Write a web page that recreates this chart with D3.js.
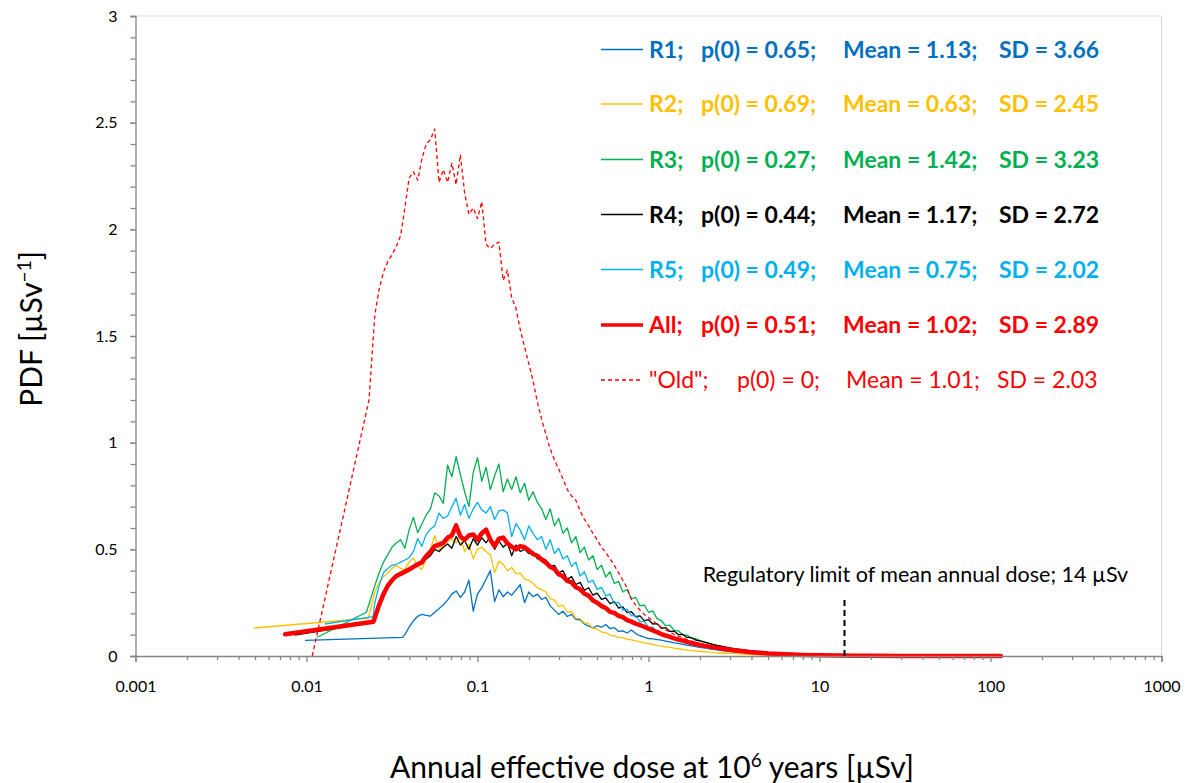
<!DOCTYPE html>
<html><head><meta charset="utf-8">
<script src="https://cdn.jsdelivr.net/npm/d3@7"></script>
<style>
body{margin:0;background:#fff}
svg{display:block}
text{font-family:Lato,"Open Sans",sans-serif}
</style>
</head><body>
<svg id="chart" width="1191" height="783"></svg>
<script>
// ---------- DATA ----------
const doseGrid = [0.0251,0.0266,0.0282,0.0299,0.0316,0.0335,0.0355,0.0376,0.0398,0.0422,
  0.0447,0.0473,0.0501,0.0531,0.0562,0.0596,0.0631,0.0668,0.0708,0.0750,
  0.0794,0.0841,0.0891,0.0944,0.1000,0.1059,0.1122,0.1189,0.1259,0.1334,
  0.1413,0.1496,0.1585,0.1679,0.1778,0.1884,0.1995,0.2113,0.2239,0.2371,
  0.2512,0.2661,0.2818,0.2985,0.3162,0.3350,0.3548,0.3758,0.3981,0.4217,
  0.4467,0.4732,0.5012,0.5309,0.5623,0.5957,0.6310,0.6683,0.7079,0.7499,
  0.7943,0.8414,0.8913,0.9441,1.000,1.059,1.122,1.189,1.259,1.334,
  1.413,1.496,1.585,1.679,1.778,1.884,1.995,2.113,2.239,2.371,
  2.512,2.661,2.818,2.985,3.162];
const tailDose = [4,5,6.3,8,10,12.6,16,20,30,50,80,115];

const r1Head = [[0.0098,0.073],[0.0365,0.087]];
const r1Grid = [null,null,null,null,null,null,null,0.100,0.135,0.165,
  0.186,0.195,0.190,0.187,0.205,0.222,0.240,0.262,0.290,0.305,
  0.275,0.300,0.355,0.210,0.290,0.320,0.360,0.400,0.255,0.310,
  0.278,0.300,0.285,0.310,0.335,0.250,0.300,0.278,0.290,0.265,
  0.275,0.235,0.215,0.195,0.210,0.185,0.195,0.172,0.170,0.150,
  0.140,0.132,0.142,0.135,0.148,0.128,0.133,0.115,0.118,0.108,
  0.122,0.105,0.095,0.088,0.082,0.080,0.077,0.074,0.070,0.066,
  0.062,0.059,0.055,0.051,0.047,0.044,0.041,0.038,0.035,0.031,
  0.029,0.026,0.024,0.022,0.020];
const r1Tail = [0.014,0.010,0.007,0.004,0.003,0.002,0.001,0.0005];

const r2Head = [[0.0049,0.131],[0.0230,0.177]];
const r2Grid = [0.300,0.345,0.372,0.390,0.410,0.425,0.410,0.405,0.440,0.458,
  0.420,0.405,0.460,0.500,0.565,0.500,0.520,0.535,0.550,0.530,
  0.560,0.490,0.525,0.455,0.500,0.510,0.490,0.475,0.390,0.445,
  0.430,0.400,0.415,0.385,0.390,0.360,0.355,0.340,0.320,0.310,
  0.300,0.268,0.262,0.232,0.238,0.205,0.208,0.178,0.175,0.155,
  0.152,0.130,0.127,0.112,0.110,0.097,0.095,0.086,0.086,0.078,
  0.076,0.071,0.067,0.062,0.058,0.054,0.050,0.046,0.043,0.040,
  0.037,0.034,0.031,0.028,0.026,0.024,0.022,0.020,0.018,0.017,
  0.015,0.014,0.013,0.012,0.011];
const r2Tail = [0.007,0.005,0.003,0.002,0.001,0.0007,0.0004,0.0002];

const r3Head = [[0.01155,0.088],[0.0224,0.205]];
const r3Grid = [0.330,0.390,0.440,0.475,0.510,0.530,0.545,0.505,0.590,0.650,
  0.578,0.620,0.660,0.690,0.765,0.750,0.715,0.895,0.840,0.934,
  0.850,0.770,0.700,0.860,0.930,0.820,0.885,0.780,0.845,0.900,
  0.770,0.830,0.780,0.840,0.765,0.810,0.730,0.770,0.720,0.690,
  0.640,0.690,0.610,0.645,0.575,0.600,0.530,0.560,0.485,0.510,
  0.450,0.470,0.405,0.425,0.370,0.395,0.340,0.350,0.300,0.312,
  0.268,0.275,0.235,0.240,0.205,0.212,0.175,0.165,0.142,0.145,
  0.120,0.118,0.100,0.098,0.084,0.082,0.072,0.065,0.060,0.055,
  0.050,0.045,0.041,0.037,0.033];
const r3Tail = [0.022,0.015,0.010,0.006,0.004,0.0025,0.0015,0.001];

const r4Head = [[0.00855,0.098],[0.0246,0.158]];
const r4Grid = [0.170,0.235,0.285,0.325,0.350,0.370,0.380,0.390,0.400,0.412,
  0.425,0.432,0.455,0.470,0.500,0.490,0.510,0.525,0.505,0.560,
  0.520,0.540,0.500,0.550,0.520,0.555,0.530,0.560,0.500,0.540,
  0.510,0.530,0.470,0.520,0.490,0.500,0.480,0.490,0.455,0.460,
  0.450,0.420,0.425,0.390,0.400,0.360,0.372,0.335,0.345,0.308,
  0.320,0.285,0.295,0.265,0.272,0.245,0.255,0.225,0.230,0.203,
  0.208,0.184,0.188,0.166,0.170,0.150,0.152,0.130,0.133,0.115,
  0.117,0.100,0.101,0.087,0.086,0.075,0.071,0.066,0.060,0.055,
  0.050,0.046,0.042,0.038,0.034];
const r4Tail = [0.024,0.016,0.010,0.006,0.004,0.002,0.001,0.0005];

const r5Head = [[0.0128,0.150],[0.0245,0.185]];
const r5Grid = [0.250,0.330,0.390,0.410,0.425,0.430,0.440,0.450,0.460,0.490,
  0.550,0.515,0.570,0.595,0.610,0.670,0.645,0.655,0.700,0.740,
  0.660,0.710,0.645,0.690,0.720,0.685,0.670,0.700,0.640,0.680,
  0.685,0.670,0.560,0.620,0.590,0.545,0.610,0.575,0.545,0.560,
  0.500,0.545,0.480,0.505,0.455,0.470,0.420,0.440,0.375,0.395,
  0.345,0.355,0.312,0.322,0.282,0.290,0.245,0.252,0.215,0.220,
  0.188,0.190,0.160,0.162,0.134,0.135,0.112,0.110,0.093,0.092,
  0.078,0.075,0.064,0.062,0.053,0.051,0.045,0.040,0.036,0.033,
  0.030,0.027,0.025,0.022,0.020];
const r5Tail = [0.013,0.009,0.006,0.004,0.002,0.001,0.0005,0.0003];

const allHead = [[0.0075,0.102],[0.0246,0.161]];
const allGrid = [0.180,0.240,0.290,0.330,0.355,0.375,0.385,0.395,0.405,0.418,
  0.430,0.440,0.468,0.490,0.515,0.522,0.530,0.555,0.565,0.612,
  0.560,0.545,0.565,0.570,0.545,0.575,0.592,0.545,0.515,0.550,
  0.555,0.528,0.512,0.500,0.515,0.510,0.495,0.478,0.470,0.452,
  0.438,0.418,0.408,0.383,0.374,0.352,0.345,0.322,0.313,0.292,
  0.283,0.260,0.250,0.234,0.225,0.207,0.202,0.188,0.182,0.168,
  0.161,0.152,0.145,0.137,0.128,0.120,0.112,0.103,0.096,0.090,
  0.083,0.077,0.072,0.066,0.061,0.056,0.052,0.048,0.045,0.041,
  0.038,0.035,0.032,0.029,0.027];
const allTail = [0.018,0.012,0.008,0.005,0.003,0.002,0.0015,0.001,0.0005,0.0003,0.0002,0.0001];

const oldHead = [[0.0108,0.0],[0.0232,1.20]];
const oldGrid = [1.60,1.72,1.80,1.85,1.88,1.92,1.97,2.10,2.24,2.27,
  2.23,2.33,2.40,2.42,2.47,2.22,2.28,2.22,2.31,2.21,
  2.35,2.17,2.07,2.10,2.05,2.13,1.93,1.91,1.93,1.94,
  1.76,1.81,1.68,1.63,1.53,1.45,1.37,1.29,1.19,1.11,
  1.04,0.97,0.92,0.875,0.83,0.78,0.75,0.73,0.68,0.64,
  0.61,0.575,0.545,0.51,0.485,0.455,0.425,0.39,0.355,0.32,
  0.265,0.24,0.215,0.195,0.18,0.165,0.148,0.135,0.123,0.112,
  0.102,0.093,0.085,0.077,0.070,0.064,0.058,0.052,0.047,0.042,
  0.038,0.034,0.031,0.028,0.025];
const oldTail = [0.015,0.009,0.005,0.002,0.001];

const seriesNames = ["R1","R2","R3","R4","R5","All","Old"];
const seriesColors = ["#0070C0","#FFC000","#00B050","#000000","#00B0F0","#FF0000","#FF0000"];
const legendLabel = ["R1;","R2;","R3;","R4;","R5;","All;","\"Old\";"];
const legendP0 = ["p(0) = 0.65;","p(0) = 0.69;","p(0) = 0.27;","p(0) = 0.44;","p(0) = 0.49;","p(0) = 0.51;","p(0) = 0;"];
const legendMean = ["Mean = 1.13;","Mean = 0.63;","Mean = 1.42;","Mean = 1.17;","Mean = 0.75;","Mean = 1.02;","Mean = 1.01;"];
const legendSD = ["SD = 3.66","SD = 2.45","SD = 3.23","SD = 2.72","SD = 2.02","SD = 2.89","SD = 2.03"];

const xTickValues = [0.001,0.01,0.1,1,10,100,1000];
const xTickLabels = ["0.001","0.01","0.1","1","10","100","1000"];
const yTickValues = [0,0.5,1,1.5,2,2.5,3];
const yTickLabels = ["0","0.5","1","1.5","2","2.5","3"];
const regLimitDose = 14;
const regLimitTop = 0.28;

// ---------- BUILD ----------
function build(head, grid, tail){
  const pts = head.map(d=>({x:d[0],y:d[1]}));
  grid.forEach((v,i)=>{ if(v!==null) pts.push({x:doseGrid[i],y:v}); });
  tail.forEach((v,i)=>pts.push({x:tailDose[i],y:v}));
  return pts;
}
const seriesData = [
  build(r1Head,r1Grid,r1Tail),
  build(r2Head,r2Grid,r2Tail),
  build(r3Head,r3Grid,r3Tail),
  build(r4Head,r4Grid,r4Tail),
  build(r5Head,r5Grid,r5Tail),
  build(allHead,allGrid,allTail),
  build(oldHead,oldGrid,oldTail)
];

const svg = d3.select("#chart");
const L = 135.5, R = 1161.5, T = 16, B = 656;
const x = d3.scaleLog().domain([0.001,1000]).range([L,R]);
const y = d3.scaleLinear().domain([0,3]).range([B,T]);
const axisColor = "#868686";

// plot border (top/right)
svg.append("path").attr("d",`M${L},${T}H${R}V${B}`).attr("fill","none").attr("stroke","#D9D9D9").attr("stroke-width",1);

// lines
const line = d3.line().x(d=>x(d.x)).y(d=>y(d.y));
const widths = [1.3,1.3,1.3,1.3,1.3,4.5,1.3];
seriesData.forEach((pts,i)=>{
  const p = svg.append("path").datum(pts).attr("d",line)
    .attr("fill","none").attr("stroke",seriesColors[i]).attr("stroke-width",widths[i])
    .attr("stroke-linejoin","round").attr("stroke-linecap", i===5?"round":"butt");
  if(i===6) p.attr("stroke-dasharray","4,3");
});

// regulatory limit
svg.append("line").attr("x1",x(regLimitDose)).attr("x2",x(regLimitDose))
  .attr("y1",y(0)).attr("y2",y(regLimitTop)).attr("stroke","#000").attr("stroke-width",2)
  .attr("stroke-dasharray","6,4");
svg.append("text").attr("x",x(regLimitDose)+71).attr("y",582).attr("text-anchor","middle")
  .attr("font-size",21.5).attr("fill","#000").text("Regulatory limit of mean annual dose; 14 \u00b5Sv");

// x axis
const minorX = [];
[0.001,0.01,0.1,1,10,100].forEach(d=>{ for(let k=2;k<=9;k++) minorX.push(d*k); });
const gxm = svg.append("g").attr("transform",`translate(0,${B})`)
  .call(d3.axisBottom(x).tickValues(minorX).tickSize(4).tickFormat(""));
const gx = svg.append("g").attr("transform",`translate(0,${B})`)
  .call(d3.axisBottom(x).tickValues(xTickValues).tickSize(6).tickPadding(19)
    .tickFormat((d,i)=>xTickLabels[i]));
// y axis
const gym = svg.append("g").attr("transform",`translate(${L},0)`)
  .call(d3.axisLeft(y).tickValues(d3.range(0,3.001,0.1)).tickSize(5).tickFormat(""));
const gy = svg.append("g").attr("transform",`translate(${L},0)`)
  .call(d3.axisLeft(y).tickValues(yTickValues).tickSize(5).tickPadding(13)
    .tickFormat((d,i)=>yTickLabels[i]));
[gxm,gx,gym,gy].forEach(g=>{
  g.selectAll("path.domain").attr("stroke",axisColor).attr("stroke-width",1.3);
  g.selectAll(".tick line").attr("stroke",axisColor).attr("stroke-width",1.3);
  g.selectAll(".tick text").attr("font-family","Lato").attr("font-size",16).attr("fill","#000");
});
gym.select("path.domain").remove();
gxm.select("path.domain").remove();

// axis titles
const xt = svg.append("text").attr("x",652).attr("y",778).attr("text-anchor","middle")
  .attr("font-size",30).attr("fill","#000");
xt.append("tspan").text("Annual effective dose at 10");
xt.append("tspan").attr("font-size",19).attr("dy",-11).text("6");
xt.append("tspan").attr("dy",11).text(" years [\u00b5Sv]");

const yt = svg.append("text").attr("transform","translate(42,329) rotate(-90)")
  .attr("text-anchor","middle").attr("font-size",30).attr("fill","#000");
yt.append("tspan").text("PDF [\u00b5Sv");
yt.append("tspan").attr("font-size",19).attr("dy",-11).text("\u22121");
yt.append("tspan").attr("dy",11).text("]");

// legend
const legRowY = [49.5,104,159.5,214.5,269.5,325,380];
const legX = {line0:601,line1:643,label:649};
const colP0 = [701,701,701,701,701,701,737];
const colMean = [843,843,843,843,843,843,846];
const colSD = [999,999,999,999,999,999,997];
seriesNames.forEach((n,i)=>{
  const cy = legRowY[i];
  const ln = svg.append("line").attr("x1",legX.line0).attr("x2",legX.line1).attr("y1",cy).attr("y2",cy)
    .attr("stroke",seriesColors[i]).attr("stroke-width",widths[i]===4.5?3.5:1.3);
  if(i===6) ln.attr("stroke-dasharray","4,3");
  const bold = i<6;
  const g = svg.append("g").attr("font-size",23).attr("font-weight",bold?"bold":"normal").attr("fill",seriesColors[i]);
  const by = cy+8;
  g.append("text").attr("x",legX.label).attr("y",by).text(legendLabel[i]);
  g.append("text").attr("x",colP0[i]).attr("y",by).text(legendP0[i]);
  g.append("text").attr("x",colMean[i]).attr("y",by).text(legendMean[i]);
  g.append("text").attr("x",colSD[i]).attr("y",by).text(legendSD[i]);
});
</script>
</body></html>
